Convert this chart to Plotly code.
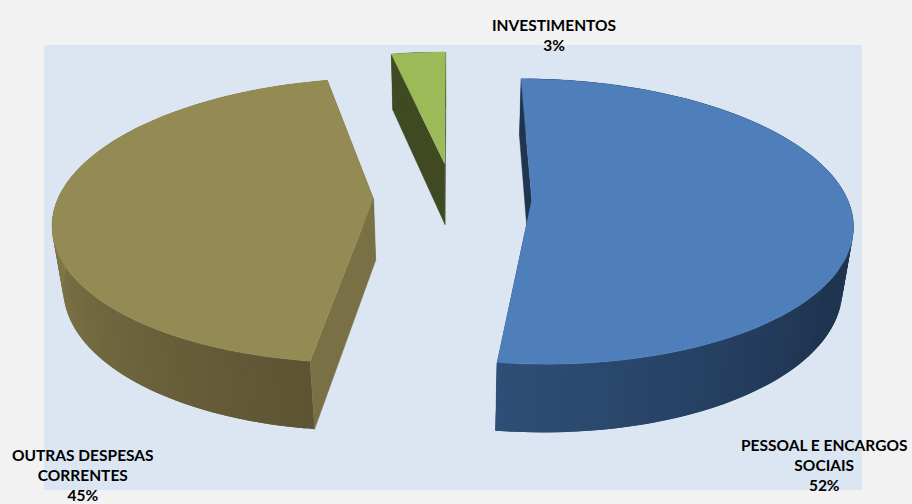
import math
import numpy as np
import plotly.graph_objects as go

# ---- data ----
categories = ["PESSOAL E ENCARGOS<br>SOCIAIS", "OUTRAS DESPESAS<br>CORRENTES", "INVESTIMENTOS"]
values = [52.1, 44.6, 3.3]

# ---- styles ----
top_colors = ["#4f7fba", "#948a54", "#9bbb59"]
face_colors = ["#1f3550", "#7a7045", "#3f4a22"]
side_start = [(47, 79, 120), (92, 84, 51), (63, 74, 34)]
side_end = [(31, 52, 80), (138, 128, 78), (63, 74, 34)]
label_pos = [(824, 465), (83, 475), (553.5, 35)]
FONT = "Lato, Carlito, Calibri, sans-serif"

# ---- 3D pie projection (unit-radius pie, viewed in perspective) ----
VX, VY = 452.6, 197.0      # where the pie's centre lands in the plot
BX, AY = 315.0, 138.6      # horizontal and depth scale
CZ = 64.0                  # thickness
K, M = 0.155, 0.028        # perspective strength
EXPLODE = 0.251


def project(X, Y, Z):
    w = 1 + K * Y + M * Z
    return VX + BX * X / w, VY + (-AY * Y + CZ * Z) / w


def mix(a, b, t):
    return "rgb(%d,%d,%d)" % tuple(round(a[i] + (b[i] - a[i]) * t) for i in range(3))


def poly(xs, ys, color, name=None, lw=0.4):
    return go.Scatter(
        x=list(xs), y=list(ys), mode="lines", fill="toself", fillcolor=color,
        line=dict(color=color, width=lw), showlegend=False,
        hoverinfo="text" if name else "skip", text=name, hoveron="fills",
    )


fig = go.Figure()
tops = []
total = sum(values)
start = 0.0
for i, v in enumerate(values):
    sweep = 360.0 * v / total
    mid = math.radians(start + sweep / 2)
    ax, ay = EXPLODE * math.sin(mid), EXPLODE * math.cos(mid)
    th = np.radians(np.linspace(start, start + sweep, max(int(sweep / 1.5) + 2, 6)))
    rx, ry = ax + np.sin(th), ay + np.cos(th)

    # cut faces sit behind the rim
    for j in (0, -1):
        px, py = zip(*[project(rx[j], ry[j], 0), project(rx[j], ry[j], 1),
                       project(ax, ay, 1), project(ax, ay, 0)])
        fig.add_trace(poly(px, py, face_colors[i]))

    # rim, one strip per step; each strip runs on under the next so no seam shows
    n = len(th) - 1
    for j in range(n):
        if i == 0:
            t = min(1.0, (math.degrees(th[-1]) - math.degrees(th[j])) / 65.0)
        else:
            t = min(1.0, (math.degrees(th[j]) - math.degrees(th[0])) / sweep * 1.7)
        color = mix(side_start[i], side_end[i], t)
        e = min(j + 2, n)
        arc = range(j, e + 1)
        pts = [project(rx[q], ry[q], 0) for q in arc] + [project(rx[q], ry[q], 1) for q in reversed(arc)]
        px, py = zip(*pts)
        fig.add_trace(poly(px, py, color, lw=0))

    # top surface goes on last
    tx, ty = project(np.r_[ax, rx], np.r_[ay, ry], 0)
    tops.append(poly(tx, ty, top_colors[i], name=f"{categories[i].replace('<br>', ' ')}: {round(v)}%"))
    start += sweep

for t in tops:
    fig.add_trace(t)

annotations = [
    dict(x=label_pos[i][0], y=label_pos[i][1], xref="x", yref="y",
         text=f"<b>{categories[i]}</b><br><b>{round(values[i])}%</b>",
         showarrow=False, align="center", xanchor="center", yanchor="middle",
         font=dict(family=FONT, size=15.5, color="#000000"))
    for i in range(3)
]

fig.update_layout(
    width=912, height=504, margin=dict(l=0, r=0, t=0, b=0),
    paper_bgcolor="#f2f2f2", plot_bgcolor="#f2f2f2",
    xaxis=dict(range=[0, 912], visible=False, fixedrange=True),
    yaxis=dict(range=[504, 0], visible=False, fixedrange=True),
    shapes=[dict(type="rect", layer="below", xref="x", yref="y",
                 x0=44, x1=862, y0=45, y1=490,
                 fillcolor="#dce6f2", line=dict(width=0))],
    annotations=annotations,
    showlegend=False,
)
fig.write_html(
    "out.html",
    config={"displayModeBar": False, "responsive": False},
    post_script="document.body.style.margin='0';document.body.style.background='#f2f2f2';document.documentElement.style.overflow='hidden';",
)
